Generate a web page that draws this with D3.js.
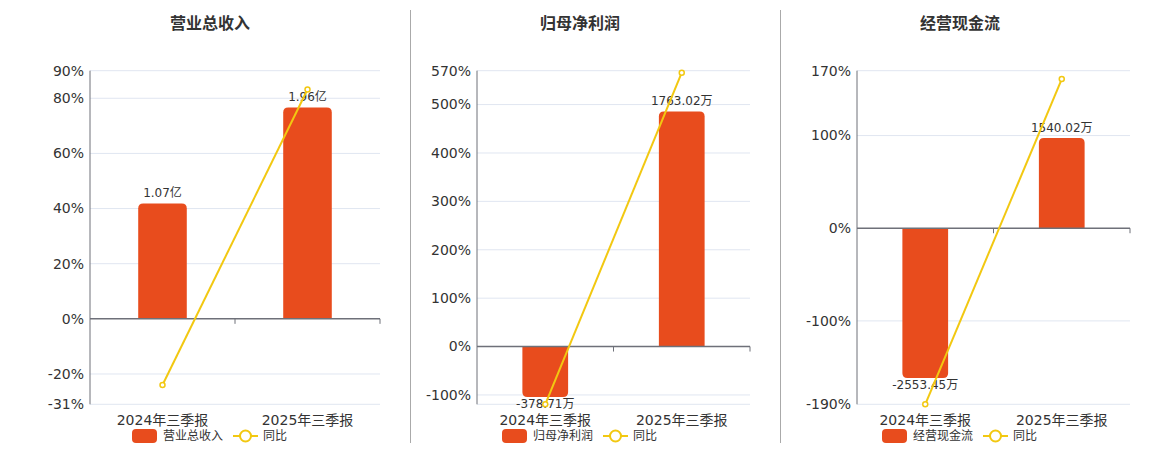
<!DOCTYPE html>
<html>
<head>
<meta charset="utf-8">
<script src="https://cdn.jsdelivr.net/npm/d3@7"></script>
<style>
  body { margin: 0; background: #fff; }
  svg { display: block; font-family: "DejaVu Sans", "Noto Sans CJK SC", sans-serif; }
  .title { font-size: 16px; font-weight: bold; fill: #333; }
  .tick-label { font-size: 14px; fill: #333; }
  .cat-label { font-size: 14px; fill: #333; }
  .bar-label { font-size: 12px; fill: #333; }
  .legend-text { font-size: 12px; fill: #333; }
</style>
</head>
<body>
<script>
// data
var categories = ["2024年三季报", "2025年三季报"];
var titles = ["营业总收入", "归母净利润", "经营现金流"];
var barNames = ["营业总收入", "归母净利润", "经营现金流"];

var revenue = [1.07, 1.96];              // 亿
var revenueLabels = ["1.07亿", "1.96亿"];
var revenueYoy = [-24.0, 83.2];          // %

var netProfit = [-378.71, 1763.02];      // 万
var netProfitLabels = ["-378.71万", "1763.02万"];
var netProfitYoy = [-119.3, 566];

var cashFlow = [-2553.45, 1540.02];      // 万
var cashFlowLabels = ["-2553.45万", "1540.02万"];
var cashFlowYoy = [-190, 161];

// percent axis domains and the tick labels shown
var revenueDomain = [-31, 90];
var revenueTicks = [90, 80, 60, 40, 20, 0, -20, -31];
var profitDomain = [-119.3, 570];
var profitTicks = [570, 500, 400, 300, 200, 100, 0, -100];
var cashDomain = [-190, 170];
var cashTicks = [170, 100, 0, -100, -190];

// top of the hidden bar axis (zero shared with the percent axis)
var revenueBarMax = 2.30;
var profitBarMax = 2070;
var cashBarMax = 2686;

var width = 1160, height = 450;
var barColor = "#e84c1d", lineColor = "#f2c811";

var svg = d3.select("body").append("svg")
    .attr("width", width)
    .attr("height", height);

var panels = [
    {title: titles[0], name: barNames[0], bars: revenue, labels: revenueLabels, yoy: revenueYoy,
     domain: revenueDomain, ticks: revenueTicks, barMax: revenueBarMax,
     left: 90, right: 380, center: 210},
    {title: titles[1], name: barNames[1], bars: netProfit, labels: netProfitLabels, yoy: netProfitYoy,
     domain: profitDomain, ticks: profitTicks, barMax: profitBarMax,
     left: 477, right: 750, center: 580},
    {title: titles[2], name: barNames[2], bars: cashFlow, labels: cashFlowLabels, yoy: cashFlowYoy,
     domain: cashDomain, ticks: cashTicks, barMax: cashBarMax,
     left: 857, right: 1130, center: 960}
];

var plotTop = 70.7, plotBottom = 404.3;

/* separators between the panels */
[410.5, 780.5].forEach(function(x) {
    svg.append("line")
        .attr("x1", x).attr("x2", x)
        .attr("y1", 10).attr("y2", 443)
        .attr("stroke", "#aaa");
});

/* bar with rounded far end */
function barPath(x, w, y0, y1, r) {
    var h = Math.abs(y1 - y0);
    r = Math.min(r, h, w / 2);
    if (y1 < y0) {
        return "M" + x + "," + y0 + "V" + (y1 + r) + "Q" + x + "," + y1 + " " + (x + r) + "," + y1 +
            "H" + (x + w - r) + "Q" + (x + w) + "," + y1 + " " + (x + w) + "," + (y1 + r) +
            "V" + y0 + "Z";
    }
    return "M" + x + "," + y0 + "V" + (y1 - r) + "Q" + x + "," + y1 + " " + (x + r) + "," + y1 +
        "H" + (x + w - r) + "Q" + (x + w) + "," + y1 + " " + (x + w) + "," + (y1 - r) +
        "V" + y0 + "Z";
}

panels.forEach(function(p) {
    var g = svg.append("g");

    var xScale = d3.scaleBand()
        .domain(categories)
        .range([p.left, p.right]);

    var yScale = d3.scaleLinear()
        .domain(p.domain)
        .range([plotBottom, plotTop]);

    var barMin = p.barMax * p.domain[0] / p.domain[1];
    var barScale = d3.scaleLinear()
        .domain([barMin, p.barMax])
        .range([plotBottom, plotTop]);

    /* title */
    g.append("text")
        .attr("class", "title")
        .attr("x", p.center)
        .attr("y", 23)
        .attr("dy", "0.35em")
        .attr("text-anchor", "middle")
        .text(p.title);

    /* grid lines (ticks plus the bottom edge) */
    var gridVals = p.ticks.slice();
    if (gridVals.indexOf(p.domain[0]) < 0) gridVals.push(p.domain[0]);
    g.selectAll(".grid")
        .data(gridVals.filter(function(v) { return v !== 0; }))
        .enter().append("line")
        .attr("x1", p.left).attr("x2", p.right)
        .attr("y1", function(d) { return yScale(d); })
        .attr("y2", function(d) { return yScale(d); })
        .attr("stroke", "#e0e6f1");

    /* y tick labels */
    g.selectAll(".tick-label")
        .data(p.ticks)
        .enter().append("text")
        .attr("class", "tick-label")
        .attr("x", p.left - 6)
        .attr("y", function(d) { return yScale(d); })
        .attr("dy", "0.35em")
        .attr("text-anchor", "end")
        .text(function(d) { return d + "%"; });

    /* y axis line */
    g.append("line")
        .attr("x1", p.left).attr("x2", p.left)
        .attr("y1", plotTop).attr("y2", plotBottom)
        .attr("stroke", "#6e7079");

    /* bars */
    var bw = xScale.bandwidth() * 0.335;
    g.selectAll(".bar")
        .data(p.bars)
        .enter().append("path")
        .attr("fill", barColor)
        .attr("d", function(d, i) {
            var cx = xScale(categories[i]) + xScale.bandwidth() / 2;
            return barPath(cx - bw / 2, bw, barScale(0), barScale(d), 5);
        });

    /* zero axis with category ticks */
    var zeroY = yScale(0);
    g.append("line")
        .attr("x1", p.left).attr("x2", p.right)
        .attr("y1", zeroY).attr("y2", zeroY)
        .attr("stroke", "#6e7079")
        .attr("stroke-width", 1.5);
    g.selectAll(".xtick")
        .data(categories)
        .enter().append("line")
        .attr("x1", function(d) { return xScale(d) + xScale.bandwidth(); })
        .attr("x2", function(d) { return xScale(d) + xScale.bandwidth(); })
        .attr("y1", zeroY).attr("y2", zeroY + 5)
        .attr("stroke", "#6e7079");

    /* bar labels */
    g.selectAll(".bar-label")
        .data(p.bars)
        .enter().append("text")
        .attr("class", "bar-label")
        .attr("x", function(d, i) { return xScale(categories[i]) + xScale.bandwidth() / 2; })
        .attr("y", function(d) { return d >= 0 ? barScale(d) - 10.5 : barScale(d) + 7; })
        .attr("dy", "0.35em")
        .attr("text-anchor", "middle")
        .text(function(d, i) { return p.labels[i]; });

    /* yoy line */
    var line = d3.line()
        .x(function(d, i) { return xScale(categories[i]) + xScale.bandwidth() / 2; })
        .y(function(d) { return yScale(d); });
    g.append("path")
        .datum(p.yoy)
        .attr("d", line)
        .attr("fill", "none")
        .attr("stroke", lineColor)
        .attr("stroke-width", 2);
    g.selectAll(".dot")
        .data(p.yoy)
        .enter().append("circle")
        .attr("cx", function(d, i) { return xScale(categories[i]) + xScale.bandwidth() / 2; })
        .attr("cy", function(d) { return yScale(d); })
        .attr("r", 2.5)
        .attr("fill", "#fff")
        .attr("stroke", lineColor)
        .attr("stroke-width", 1.5);

    /* category labels */
    g.selectAll(".cat-label")
        .data(categories)
        .enter().append("text")
        .attr("class", "cat-label")
        .attr("x", function(d) { return xScale(d) + xScale.bandwidth() / 2; })
        .attr("y", 420.5)
        .attr("dy", "0.35em")
        .attr("text-anchor", "middle")
        .text(function(d) { return d; });

    /* legend */
    var lx = p.center - 78, ly = 436;
    g.append("rect")
        .attr("x", lx).attr("y", ly - 7)
        .attr("width", 25).attr("height", 14)
        .attr("rx", 4)
        .attr("fill", barColor);
    g.append("text")
        .attr("class", "legend-text")
        .attr("x", lx + 31).attr("y", ly)
        .attr("dy", "0.35em")
        .text(p.name);
    g.append("line")
        .attr("x1", lx + 101).attr("x2", lx + 126)
        .attr("y1", ly).attr("y2", ly)
        .attr("stroke", lineColor)
        .attr("stroke-width", 2);
    g.append("circle")
        .attr("cx", lx + 113.5).attr("cy", ly)
        .attr("r", 5.5)
        .attr("fill", "#fff")
        .attr("stroke", lineColor)
        .attr("stroke-width", 2);
    g.append("text")
        .attr("class", "legend-text")
        .attr("x", lx + 131).attr("y", ly)
        .attr("dy", "0.35em")
        .text("同比");
});
</script>
</body>
</html>
